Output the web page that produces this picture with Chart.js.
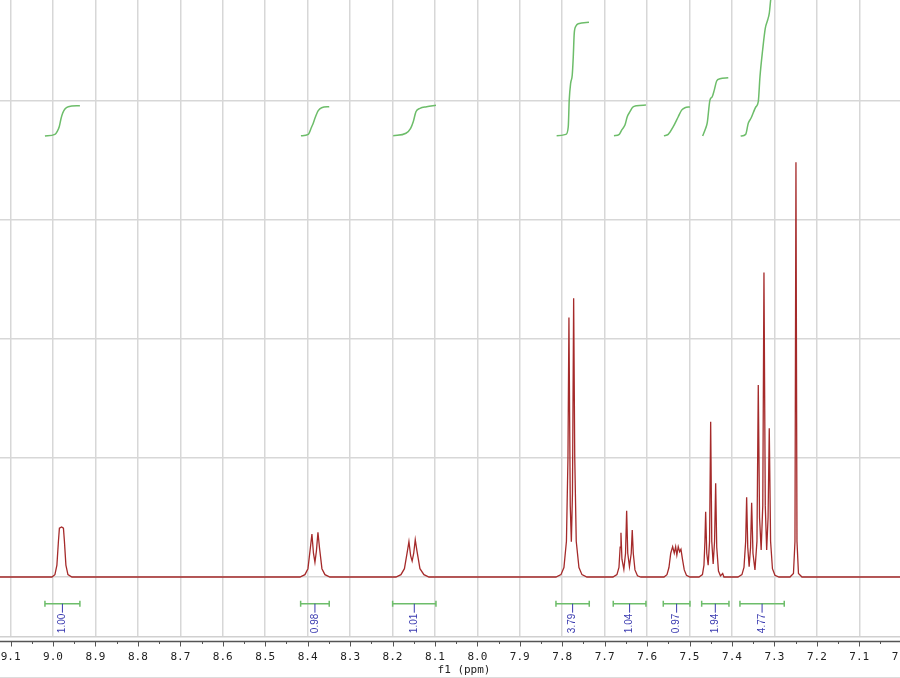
<!DOCTYPE html>
<html>
<head>
<meta charset="utf-8">
<title>1H NMR</title>
<script src="https://cdn.jsdelivr.net/npm/chart.js@4.4.1/dist/chart.umd.min.js"></script>
<style>
    html, body { margin: 0; padding: 0; background: #fff; }
    #wrap { width: 900px; height: 678px; }
</style>
</head>
<body>
<div id="wrap"><canvas id="nmr" width="900" height="678"></canvas></div>
<script>
// 스펙트럼 (ppm, 상대 강도) - 그림에서 읽은 값
const shiftPpm = [
    9.1252,
    9.0027, 8.9956, 8.9909, 8.9873, 8.9850, 8.9798, 8.9755, 8.9732, 8.9697, 8.9649, 8.9555,
    8.4182, 8.4064, 8.3993, 8.3934, 8.3899, 8.3863, 8.3828, 8.3793, 8.3757, 8.3722, 8.3663, 8.3592, 8.3475,
    8.1919, 8.1801, 8.1719, 8.1648, 8.1613, 8.1573, 8.1537, 8.1500, 8.1464, 8.1424, 8.1353, 8.1259, 8.1141,
    7.8148, 7.8030, 7.7960, 7.7901, 7.7865, 7.7842, 7.7811, 7.7785, 7.7759, 7.7731, 7.7705, 7.7670, 7.7606, 7.7535, 7.7418,
    7.6805, 7.6711, 7.6663, 7.6635, 7.6616, 7.6593, 7.6548, 7.6508, 7.6482, 7.6456, 7.6416, 7.6374, 7.6350, 7.6326, 7.6286, 7.6227, 7.6145,
    7.5603, 7.5532, 7.5485, 7.5443, 7.5398, 7.5360, 7.5327, 7.5299, 7.5266, 7.5233, 7.5202, 7.5167, 7.5124, 7.5073, 7.4990,
    7.4778, 7.4696, 7.4660, 7.4637, 7.4620, 7.4594, 7.4561, 7.4528, 7.4502, 7.4476, 7.4443, 7.4410, 7.4384, 7.4359, 7.4318, 7.4271, 7.4219, 7.4189,
    7.3859, 7.3765, 7.3717, 7.3677, 7.3654, 7.3628, 7.3595, 7.3562, 7.3536, 7.3505, 7.3458, 7.3411, 7.3380, 7.3350, 7.3312, 7.3274, 7.3246, 7.3215, 7.3182, 7.3149, 7.3121, 7.3090, 7.3046, 7.2987, 7.2892,
    7.2633, 7.2551, 7.2515, 7.2492, 7.2468, 7.2433, 7.2350,
    7.0040
];
const intensity = [
    0,
    0, 0.02, 0.10, 0.30, 0.41, 0.42, 0.41, 0.30, 0.10, 0.02, 0,
    0, 0.02, 0.07, 0.25, 0.361, 0.20, 0.124, 0.22, 0.376, 0.25, 0.07, 0.02, 0,
    0, 0.02, 0.07, 0.22, 0.297, 0.18, 0.134, 0.20, 0.313, 0.22, 0.07, 0.02, 0,
    0, 0.02, 0.08, 0.30, 1.00, 2.18, 0.60, 0.297, 0.70, 2.342, 1.00, 0.30, 0.08, 0.02, 0,
    0, 0.02, 0.08, 0.25, 0.372, 0.15, 0.065, 0.20, 0.557, 0.20, 0.087, 0.20, 0.395, 0.20, 0.06, 0.01, 0,
    0, 0.02, 0.08, 0.20, 0.255, 0.20, 0.255, 0.185, 0.255, 0.213, 0.233, 0.15, 0.06, 0.015, 0,
    0, 0.02, 0.10, 0.30, 0.549, 0.20, 0.10, 0.30, 1.305, 0.30, 0.109, 0.30, 0.787, 0.25, 0.05, 0.01, 0.03, 0,
    0, 0.02, 0.08, 0.30, 0.67, 0.25, 0.087, 0.25, 0.625, 0.20, 0.06, 0.30, 1.613, 0.50, 0.227, 0.60, 2.56, 0.60, 0.227, 0.50, 1.25, 0.30, 0.07, 0.015, 0,
    0, 0.03, 0.30, 3.485, 0.30, 0.03, 0,
    0
];

// 적분 곡선
const integralPpm = [
    [9.0191, 8.9956, 8.9897, 8.9854, 8.9814, 8.9774, 8.9720, 8.9642, 8.9367],
    [8.4158, 8.3986, 8.3906, 8.3868, 8.3828, 8.3750, 8.3670, 8.3491],
    [8.1983, 8.1683, 8.1573, 8.1511, 8.1448, 8.1353, 8.1196, 8.0976],
    [7.8132, 7.7913, 7.7858, 7.7835, 7.7802, 7.7764, 7.7740, 7.7717, 7.7677, 7.7623, 7.7370],
    [7.6781, 7.6656, 7.6600, 7.6522, 7.6468, 7.6404, 7.6341, 7.6246, 7.6027],
    [7.5603, 7.5502, 7.5384, 7.5266, 7.5186, 7.5108, 7.4990],
    [7.4691, 7.4620, 7.4582, 7.4519, 7.4465, 7.4417, 7.4361, 7.4283, 7.4087],
    [7.3795, 7.3677, 7.3616, 7.3552, 7.3435, 7.3380, 7.3340, 7.3277, 7.3215, 7.3159, 7.3121, 7.3088, 7.3058]
];
const integralLevel = [
    [3.706, 3.720, 3.748, 3.784, 3.849, 3.897, 3.933, 3.952, 3.961],
    [3.708, 3.720, 3.782, 3.813, 3.855, 3.919, 3.944, 3.952],
    [3.708, 3.729, 3.771, 3.826, 3.910, 3.939, 3.952, 3.964],
    [3.708, 3.720, 3.784, 4.008, 4.149, 4.219, 4.372, 4.569, 4.630, 4.650, 4.661],
    [3.708, 3.720, 3.756, 3.798, 3.868, 3.910, 3.947, 3.961, 3.966],
    [3.708, 3.720, 3.784, 3.868, 3.924, 3.944, 3.950],
    [3.706, 3.771, 3.818, 4.008, 4.036, 4.092, 4.168, 4.187, 4.196],
    [3.706, 3.720, 3.813, 3.855, 3.952, 3.994, 4.204, 4.429, 4.611, 4.681, 4.737, 4.849, 4.933]
];

// 적분 구간과 값
const rangeFrom = [9.0191, 8.4165, 8.1997, 7.8148, 7.6798, 7.5619, 7.4714, 7.3812];
const rangeTo = [8.9367, 8.3491, 8.0976, 7.7363, 7.6027, 7.4990, 7.4071, 7.2768];
const rangeValues = ['1.00', '0.98', '1.01', '3.79', '1.04', '0.97', '1.94', '4.77'];
const rangeBarLevel = -0.224;

// 축 눈금
const tickLabels = ['9.1', '9.0', '8.9', '8.8', '8.7', '8.6', '8.5', '8.4', '8.3', '8.2', '8.1',
    '8.0', '7.9', '7.8', '7.7', '7.6', '7.5', '7.4', '7.3', '7.2', '7.1', '7.0'];
const axisTitle = 'f1 (ppm)';

const GRID = '#d7d7d7';
const GREEN = '#6dbd6a';
const BLUE = '#3a3ab0';
const MONO = "'DejaVu Sans Mono', 'Liberation Mono', monospace";

// 적분 구간 표시
const rangePlugin = {
    id: 'ranges',
    afterDatasetsDraw(chart) {
        const { ctx, scales: { x, y } } = chart;
        const yb = y.getPixelForValue(rangeBarLevel);
        ctx.save();
        rangeFrom.forEach((from, i) => {
            const x1 = x.getPixelForValue(from);
            const x2 = x.getPixelForValue(rangeTo[i]);
            const xm = (x1 + x2) / 2;
            ctx.strokeStyle = GREEN;
            ctx.lineWidth = 1.5;
            ctx.beginPath();
            ctx.moveTo(x1, yb); ctx.lineTo(x2, yb);
            ctx.moveTo(x1, yb - 3); ctx.lineTo(x1, yb + 3);
            ctx.moveTo(x2, yb - 3); ctx.lineTo(x2, yb + 3);
            ctx.stroke();

            ctx.strokeStyle = BLUE;
            ctx.lineWidth = 1;
            ctx.beginPath();
            ctx.moveTo(xm, yb); ctx.lineTo(xm, yb + 9);
            ctx.stroke();

            ctx.save();
            ctx.translate(xm, yb + 10);
            ctx.rotate(-Math.PI / 2);
            ctx.fillStyle = BLUE;
            ctx.font = "10px 'Liberation Sans', Arial, sans-serif";
            ctx.textAlign = 'right';
            ctx.textBaseline = 'middle';
            ctx.fillText(rangeValues[i], 0, 0);
            ctx.restore();
        });
        ctx.restore();
    }
};

// 아래쪽 ppm 축
const axisPlugin = {
    id: 'ppmAxis',
    afterDraw(chart) {
        const { ctx, scales: { x } } = chart;
        const yAxis = 641.5;
        ctx.save();
        ctx.strokeStyle = '#555';
        ctx.lineWidth = 1.5;
        ctx.beginPath();
        ctx.moveTo(0, yAxis); ctx.lineTo(chart.width, yAxis);
        ctx.stroke();

        ctx.lineWidth = 1;
        ctx.beginPath();
        tickLabels.forEach((label, i) => {
            const v = parseFloat(label);
            const px = Math.round(x.getPixelForValue(v)) + 0.5;
            ctx.moveTo(px, yAxis); ctx.lineTo(px, yAxis + 5);
            if (i < tickLabels.length - 1) {
                const mid = (v + parseFloat(tickLabels[i + 1])) / 2;
                const pm = Math.round(x.getPixelForValue(mid)) + 0.5;
                ctx.moveTo(pm, yAxis); ctx.lineTo(pm, yAxis + 2.5);
            }
        });
        ctx.stroke();

        ctx.fillStyle = '#222';
        ctx.font = '11px ' + MONO;
        ctx.textAlign = 'center';
        ctx.textBaseline = 'middle';
        tickLabels.forEach(label => {
            ctx.fillText(label, x.getPixelForValue(parseFloat(label)), 657.5);
        });
        ctx.fillText(axisTitle, 464, 670.5);

        ctx.strokeStyle = '#dcdcdc';
        ctx.beginPath();
        ctx.moveTo(0, 677.5); ctx.lineTo(chart.width, 677.5);
        ctx.stroke();
        ctx.restore();
    }
};

document.addEventListener('DOMContentLoaded', function() {
    const datasets = [{
        data: shiftPpm.map((p, i) => ({ x: p, y: intensity[i] })),
        borderColor: '#a52a2a',
        borderWidth: 1.3,
        tension: 0
    }];
    integralPpm.forEach((curve, c) => {
        datasets.push({
            data: curve.map((p, i) => ({ x: p, y: integralLevel[c][i] })),
            borderColor: GREEN,
            borderWidth: 1.5,
            tension: 0.3,
            cubicInterpolationMode: 'monotone'
        });
    });

    const ctx = document.getElementById('nmr').getContext('2d');
    new Chart(ctx, {
        type: 'line',
        data: { datasets },
        options: {
            responsive: false,
            animation: false,
            layout: { padding: 0 },
            elements: { point: { radius: 0 } },
            plugins: {
                legend: { display: false },
                tooltip: { enabled: false }
            },
            scales: {
                x: {
                    type: 'linear',
                    reverse: true,
                    min: 7.004,
                    max: 9.125,
                    afterFit: (scale) => { scale.height = 41; },
                    ticks: { display: false, stepSize: 0.1, includeBounds: false },
                    grid: { color: GRID, lineWidth: 1.5, drawTicks: false },
                    border: { display: true, color: '#d0d0d0', width: 1.5 }
                },
                y: {
                    type: 'linear',
                    min: -0.504,
                    max: 4.849,
                    afterFit: (scale) => { scale.width = 0; },
                    ticks: { display: false, stepSize: 1, includeBounds: false },
                    grid: { color: GRID, lineWidth: 1.5, drawTicks: false },
                    border: { display: false }
                }
            }
        },
        plugins: [rangePlugin, axisPlugin]
    });
});
</script>
</body>
</html>
